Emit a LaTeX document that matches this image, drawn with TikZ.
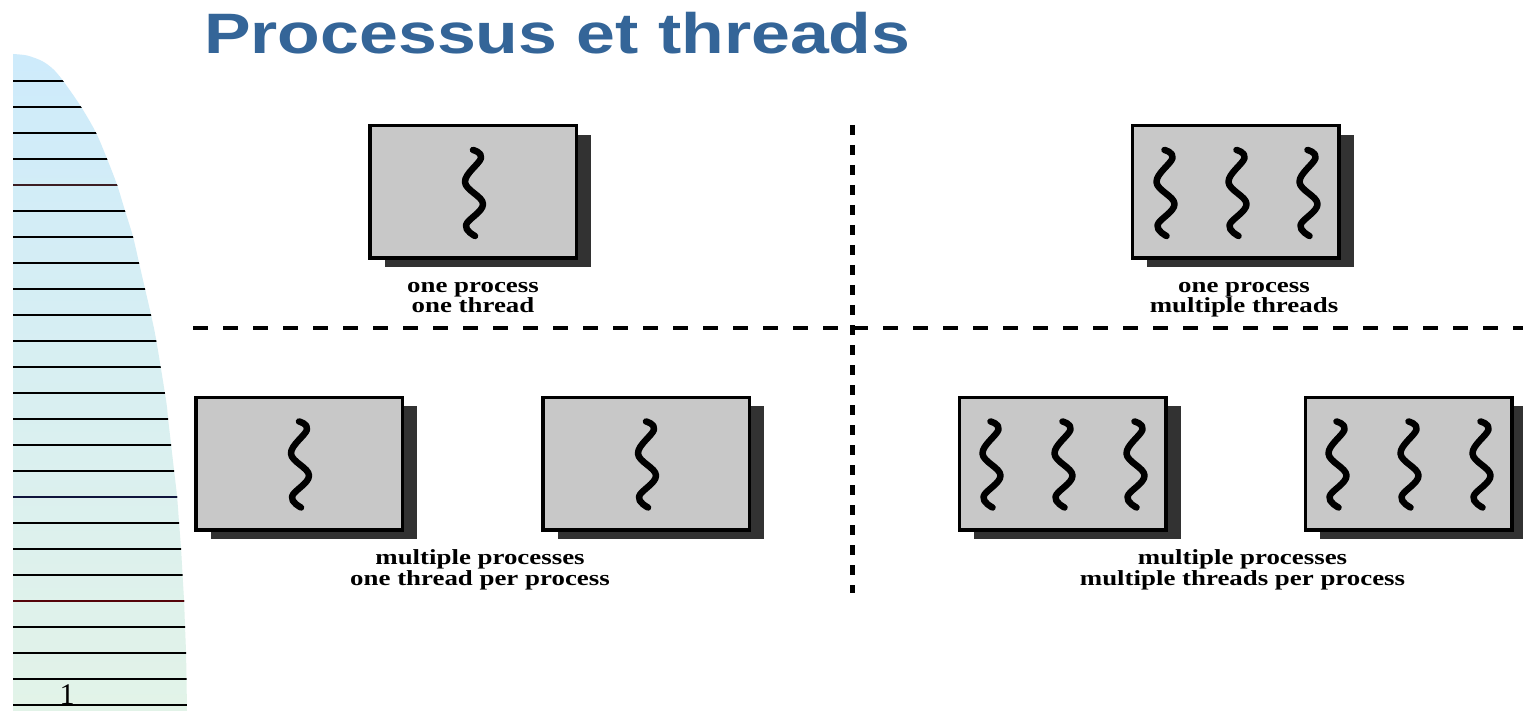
\documentclass[tikz,border=0pt]{standalone}
\usepackage{fontspec}
\usepackage{graphicx}
\setmainfont{Liberation Serif}
\newfontfamily\titlefont{Liberation Sans}
\usetikzlibrary{shadows}

\definecolor{titleblue}{RGB}{52,101,152}
\definecolor{boxgray}{RGB}{200,200,200}
\definecolor{shadowgray}{RGB}{50,50,50}
\definecolor{sidetop}{RGB}{206,235,251}
\definecolor{sidebottom}{RGB}{226,243,232}
\definecolor{ruleplum}{RGB}{60,30,35}
\definecolor{rulenavy}{RGB}{15,20,60}
\definecolor{rulemaroon}{RGB}{85,5,10}

% captions are set wide, as on the slide
\newcommand\widetext[1]{\scalebox{1.25}[1]{#1}}

\tikzset{
  procbox/.style={draw=black, line width=3.5pt, fill=boxgray,
    minimum width=206.5pt, minimum height=132.5pt, inner sep=0pt,
    drop shadow={shadow xshift=15pt, shadow yshift=-9pt,
      fill=shadowgray, opacity=1}},
  caption/.style={font=\fontsize{21.5}{22}\selectfont\bfseries,
    anchor=base, inner sep=0pt},
  ruleline/.style={line width=2pt, black},
  hdivider/.style={line width=4pt, dash pattern=on 15pt off 15pt},
  vdivider/.style={line width=5pt, dash pattern=on 10pt off 10pt},
  pics/wavethread/.style={code={
    \draw[line width=6.5pt, line cap=round, line join=round]
      plot[smooth, tension=0.65] coordinates
      {(-1,-42) (7,-34) (-9,-10) (9,12) (-8,33) (1,44)};}}
}

\begin{document}
\begin{tikzpicture}[x=1pt,y=-1pt]
\useasboundingbox (0,0) rectangle (1523,711);
\fill[white] (0,0) rectangle (1523,711);

% ruled side panel
\def\sidepanel{(13,711) -- (13,54) -- plot[smooth] coordinates {(13,54) (27,55.5) (42,61) (53,69) (63,80.7) (81,106.7) (96,132.7) (107,158.7) (117,184.7) (125,210.7) (133,236.7) (139,262.7) (145,288.7) (151,314.7) (156,339) (166,400) (168,418) (171,444) (174,470) (177,496) (179,522) (181,548) (182.5,574) (184,600) (185,626) (186,652) (186.5,678) (187,711)} -- cycle}
\shade[top color=sidetop, bottom color=sidebottom] \sidepanel;
\begin{scope}
  \clip \sidepanel;
  \foreach \k in {0,...,24}
    \draw[ruleline] (13,{80.7+26*\k}) -- (200,{80.7+26*\k});
  \draw[ruleline, ruleplum] (13,184.7) -- (200,184.7);
  \draw[ruleline, rulenavy] (13,496.7) -- (200,496.7);
  \draw[ruleline, rulemaroon] (13,600.7) -- (200,600.7);
\end{scope}
\node[font=\fontsize{30}{30}\selectfont, anchor=base, inner sep=0pt] (pagenum) at (67,704) {1};

% title
\node[anchor=base west, inner sep=0pt, text=titleblue,
  font=\titlefont\fontsize{57}{60}\selectfont\bfseries] (title) at (204,54)
  {\scalebox{1.225}[1]{Processus et threads}};

% quadrant dividers
\coordinate (hstart) at (193,327.5);
\coordinate (hend) at (1523,327.5);
\coordinate (vstart) at (852,125);
\coordinate (vend) at (852,593);
\draw[hdivider] (hstart) -- (hend);
\draw[vdivider] (vstart) -- (vend);

% one process, one thread
\node[procbox] (p1) at (473,192) {};
\pic at ([xshift=1pt]p1.center) {wavethread};
\node[caption] (c1a) at (473,292.5) {\widetext{one process}};
\node[caption] (c1b) at (473,312.5) {\widetext{one thread}};

% one process, multiple threads
\node[procbox] (p2) at (1235.5,192) {};
\foreach \dx in {-70,2,73}
  \pic at ([xshift=\dx pt]p2.center) {wavethread};
\node[caption] (c2a) at (1244,292.5) {\widetext{one process}};
\node[caption] (c2b) at (1244,312.5) {\widetext{multiple threads}};

% multiple processes, one thread per process
\node[procbox] (p3) at (299,463.5) {};
\node[procbox] (p4) at (646,463.5) {};
\pic at ([xshift=1pt]p3.center) {wavethread};
\pic at ([xshift=1pt]p4.center) {wavethread};
\node[caption] (c3a) at (480,564) {\widetext{multiple processes}};
\node[caption] (c3b) at (480,585.5) {\widetext{one thread per process}};

% multiple processes, multiple threads per process
\node[procbox] (p5) at (1062.5,463.5) {};
\node[procbox] (p6) at (1408.5,463.5) {};
\foreach \dx in {-71,1,73} {
  \pic at ([xshift=\dx pt]p5.center) {wavethread};
  \pic at ([xshift=\dx pt]p6.center) {wavethread};
}
\node[caption] (c4a) at (1242.5,564) {\widetext{multiple processes}};
\node[caption] (c4b) at (1242.5,585.5) {\widetext{multiple threads per process}};
\end{tikzpicture}
\end{document}
